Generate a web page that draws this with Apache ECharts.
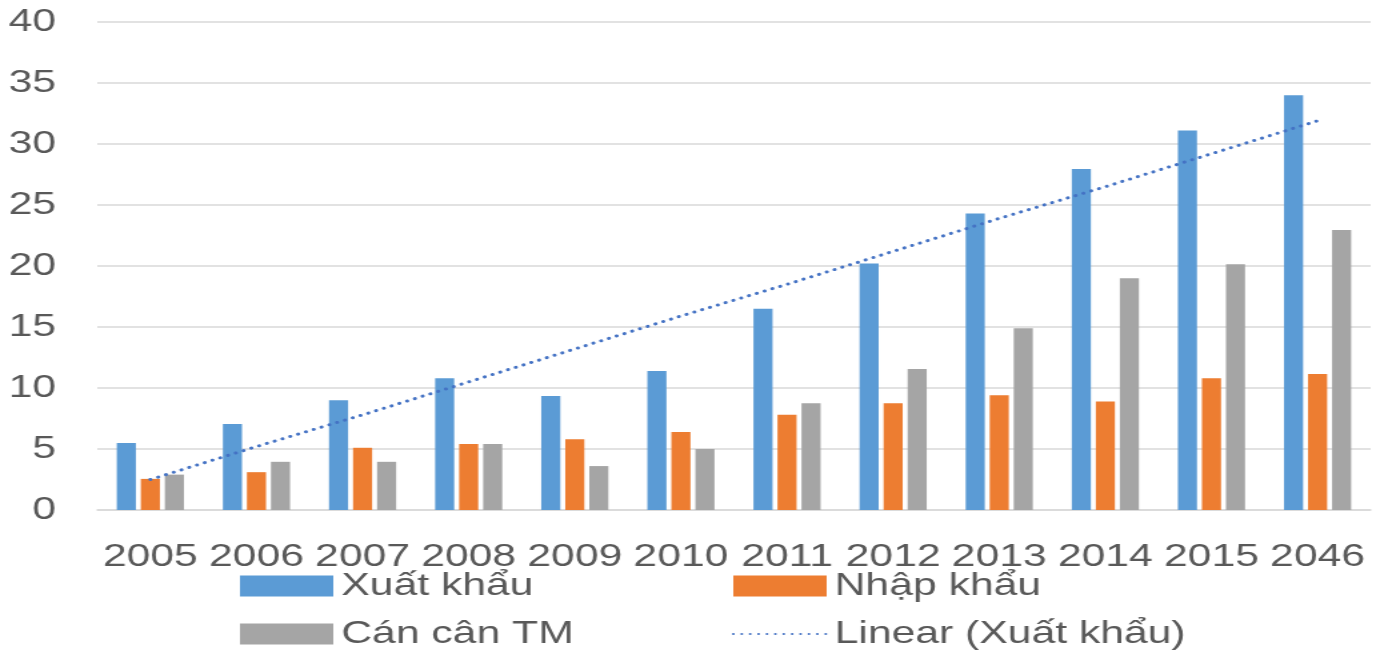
<!DOCTYPE html>
<html lang="vi">
<head>
    <meta charset="UTF-8" />
    <title>Xuất khẩu - Nhập khẩu</title>
    <script src="https://cdn.jsdelivr.net/npm/echarts@6/dist/echarts.min.js"></script>
    <style type="text/css">
        html, body { margin: 0; padding: 0; background: #fff; overflow: hidden; }
        /* hình gốc bị kéo giãn ngang ~1.333 lần, nên vẽ hẹp rồi giãn ra */
        #chart { width: 1032px; height: 653px; transform: scaleX(1.3333); transform-origin: 0 0; }
    </style>
</head>
<body>
    <div id="chart"></div>
    <script type="text/javascript">
        // dữ liệu
        var years = ['2005', '2006', '2007', '2008', '2009', '2010', '2011', '2012', '2013', '2014', '2015', '2046'];
        var xuatKhau = [5.5, 7.05, 9.0, 10.8, 9.35, 11.4, 16.5, 20.2, 24.3, 27.95, 31.1, 34.0];
        var nhapKhau = [2.55, 3.1, 5.1, 5.4, 5.8, 6.4, 7.8, 8.75, 9.4, 8.9, 10.8, 11.15];
        var canCan = [2.9, 3.95, 3.95, 5.4, 3.6, 5.0, 8.75, 11.55, 14.9, 19.0, 20.15, 22.95];
        var linearXK = [2.5, 5.2, 7.8, 10.5, 13.2, 15.9, 18.5, 21.2, 23.9, 26.5, 29.2, 31.9];
        var yTicks = [0, 40, 5];

        var font = '"Liberation Sans", Arial, sans-serif';
        var textColor = '#595959';

        function legendAt(name, left, top, icon) {
            return {
                data: [name],
                left: left,
                top: top,
                icon: icon,
                itemWidth: 70,
                itemHeight: 21,
                itemGap: 0,
                padding: 0,
                selectedMode: false,
                textStyle: { fontFamily: font, fontSize: 32, color: textColor, padding: [0, 0, 0, 1] }
            };
        }

        var chart = echarts.init(document.getElementById('chart'));
        var lineLegend = legendAt('Linear (Xuất khẩu)', 549, 618);
        lineLegend.itemStyle = { opacity: 0 };

        var option = {
            backgroundColor: '#fff',
            animation: false,
            grid: { left: 73, right: 4, top: 22, bottom: 143 },
            legend: [
                legendAt('Xuất khẩu', 180, 570, 'rect'),
                legendAt('Nhập khẩu', 550, 570, 'rect'),
                legendAt('Cán cân TM', 180, 618, 'rect'),
                lineLegend
            ],
            xAxis: {
                type: 'category',
                data: years,
                axisTick: { show: false },
                axisLine: { lineStyle: { color: '#d9d9d9', width: 1.5 } },
                axisLabel: { fontFamily: font, fontSize: 32, color: textColor, margin: 31, interval: 0 }
            },
            yAxis: {
                type: 'value',
                min: yTicks[0],
                max: yTicks[1],
                interval: yTicks[2],
                axisLine: { show: false },
                axisTick: { show: false },
                splitLine: { lineStyle: { color: '#d9d9d9', width: 1.5 } },
                axisLabel: { fontFamily: font, fontSize: 32, color: textColor, margin: 31 }
            },
            series: [
                {
                    name: 'Xuất khẩu',
                    type: 'bar',
                    barWidth: 14.3,
                    barGap: '26%',
                    itemStyle: { color: '#5b9bd5' },
                    data: xuatKhau
                },
                {
                    name: 'Nhập khẩu',
                    type: 'bar',
                    barWidth: 14.3,
                    barGap: '26%',
                    itemStyle: { color: '#ed7d31' },
                    data: nhapKhau
                },
                {
                    name: 'Cán cân TM',
                    type: 'bar',
                    barWidth: 14.3,
                    barGap: '26%',
                    itemStyle: { color: '#a5a5a5' },
                    data: canCan
                },
                {
                    name: 'Linear (Xuất khẩu)',
                    type: 'line',
                    symbol: 'none',
                    itemStyle: { color: '#4472c4' },
                    lineStyle: { color: '#4472c4', width: 3, type: [0.1, 6.2], cap: 'round' },
                    z: 5,
                    data: linearXK
                }
            ]
        };
        chart.setOption(option);
    </script>
</body>
</html>
